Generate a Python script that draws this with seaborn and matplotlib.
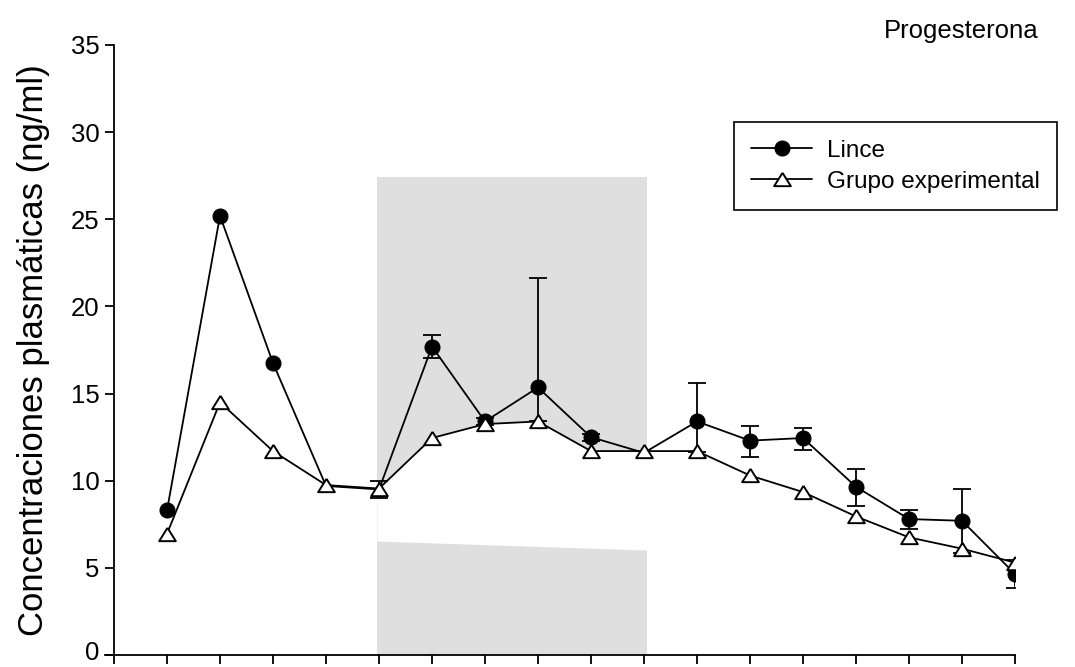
import numpy as np
import pandas as pd
import matplotlib
matplotlib.use("Agg")
import matplotlib.pyplot as plt
import matplotlib.transforms as mtransforms
import seaborn as sns

# ---- data ----
x_pos = list(range(1, 18))
lince = [8.3, 25.2, 16.75, 9.7, 9.5, 17.7, 13.4, 15.35, 12.5, 11.6, 13.4, 12.3, 12.45, 9.65, 7.8, 7.7, 4.65]
lince_err_up = [0, 0, 0, 0, 0.5, 0.65, 0.2, 6.3, 0.2, 0, 2.2, 0.85, 0.6, 1.05, 0.5, 1.85, 0.8]
lince_err_low = [0, 0, 0, 0, 0.5, 0.65, 0.2, 1.95, 0.2, 0, 1.75, 0.95, 0.7, 1.1, 0.55, 1.85, 0.8]
grupo = [6.95, 14.5, 11.7, 9.75, 9.55, 12.45, 13.25, 13.4, 11.7, 11.7, 11.7, 10.3, 9.35, 7.95, 6.75, 6.1, 5.3]
x_ticks = list(range(0, 18))
y_ticks = [0, 5, 10, 15, 20, 25, 30, 35]
shade_x = [4.96, 10.05]
shade_top = 27.45
shade_low_top = [6.54, 6.02]
series_names = ["Lince", "Grupo experimental"]
title = "Progesterona"
ylabel = "Concentraciones plasmáticas (ng/ml)"

sns.set_style("ticks")
plt.rcParams['font.family'] = ['Liberation Sans', 'DejaVu Sans']
for k in ['text.color', 'axes.labelcolor', 'xtick.color', 'ytick.color', 'axes.edgecolor']:
    plt.rcParams[k] = 'black'

fig = plt.figure(figsize=(10.75, 6.67), dpi=100)
ax = fig.add_axes([105/1075, 12/667, 910/1075, 610/667])

df = pd.DataFrame({"x": x_pos * 2,
                   "y": lince + grupo,
                   "serie": [series_names[0]] * len(x_pos) + [series_names[1]] * len(x_pos)})

# shaded period
ax.fill_between(shade_x, [0, 0], [shade_top, shade_top], color="#dfdfdf", lw=0, zorder=0.2)
xs = np.linspace(shade_x[0], shade_x[1], 200)
top_line = np.interp(xs, x_pos, grupo)
low_line = np.interp(xs, shade_x, shade_low_top)
ax.fill_between(xs, low_line, top_line, color="white", lw=0, zorder=0.4)

# error bars (Lince)
mask = [(u > 0 or l > 0) for u, l in zip(lince_err_up, lince_err_low)]
ex = [x for x, m in zip(x_pos, mask) if m]
ey = [y for y, m in zip(lince, mask) if m]
eu = [e for e, m in zip(lince_err_up, mask) if m]
el = [e for e, m in zip(lince_err_low, mask) if m]
ax.errorbar(ex, ey, yerr=[el, eu], fmt="none", ecolor="black", elinewidth=1.3,
            capsize=6.5, capthick=1.3, zorder=1.5)

tri = [(0, 0.8), (-1, -0.8), (1, -0.8), (0, 0.8)]
hide = [3, 4, 9]
sns.lineplot(data=df[df.serie == series_names[0]], x="x", y="y", ax=ax, color="black",
             lw=1.3, marker="o", markersize=10.8, markerfacecolor="black",
             markeredgecolor="black", label=series_names[0], zorder=2,
             markevery=[i for i in range(len(x_pos)) if i not in hide])
sns.lineplot(data=df[df.serie == series_names[1]], x="x", y="y", ax=ax, color="black",
             lw=1.3, marker=tri, markersize=12, markerfacecolor="white",
             markeredgecolor="black", markeredgewidth=1.4, label=series_names[1], zorder=3)

ax.set_xlim(-0.17, 17)
ax.set_ylim(0, 35)
ax.spines['left'].set_position(('data', 0))
ax.spines['left'].set_bounds(0, 35)
ax.set_xticks(x_ticks)
ax.set_xticklabels([])
ax.set_yticks(y_ticks)
ax.set_yticklabels([str(v) for v in y_ticks])
for s in ['top', 'right']:
    ax.spines[s].set_visible(False)
for s in ['left', 'bottom']:
    ax.spines[s].set_linewidth(1.3)
    ax.spines[s].set_color("black")
ax.tick_params(axis='both', direction='out', length=6.3, width=1.3, color="black",
               pad=4, labelsize=18.5, labelcolor="black")
# keep the "0" label inside the figure (nudge up a few pixels)
zero_lbl = ax.yaxis.get_major_ticks()[0].label1
zero_lbl.set_transform(zero_lbl.get_transform() +
                       mtransforms.ScaledTranslation(0, 4 / 100, fig.dpi_scale_trans))

ax.set_xlabel("")
ax.set_ylabel(ylabel, fontsize=25)
ax.yaxis.set_label_coords(-(105 - 50) / 910, 0.5)

leg = ax.legend(loc="upper right", bbox_to_anchor=(1057/1075, 1 - 122/667),
                bbox_transform=fig.transFigure, fontsize=17.5, frameon=True,
                fancybox=False, edgecolor="black", handlelength=2.5,
                borderpad=0.72, labelspacing=0.38, handletextpad=0.6, borderaxespad=0)
leg.get_frame().set_linewidth(1.2)
leg.get_frame().set_alpha(1)

fig.text(961/1075, 1 - 31/667, title, fontsize=18.5, ha="center", va="center")

fig.savefig("out.png", dpi=100)
